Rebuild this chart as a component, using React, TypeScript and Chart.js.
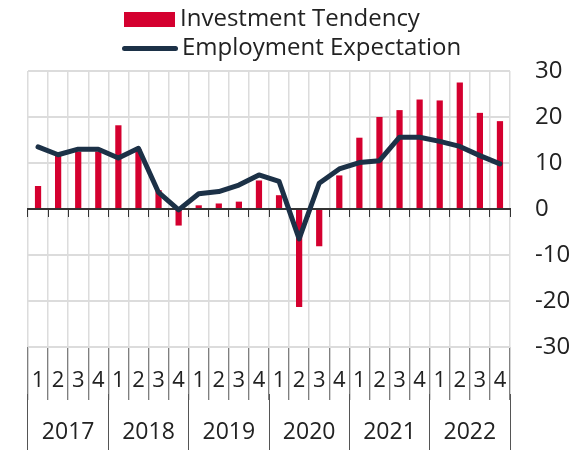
import React, { useEffect, useRef } from "react";
import { Chart, registerables } from "chart.js";

Chart.register(...registerables);

const years = ["2017", "2018", "2019", "2020", "2021", "2022"];
const quarters = ["1", "2", "3", "4"];
const categories = years.flatMap((y) => quarters.map((q) => q));

const investmentTendency = [
  5.0, 11.6, 12.5, 12.5,
  18.2, 13.0, 4.1, -3.6,
  0.8, 1.2, 1.6, 6.2,
  3.0, -21.3, -8.1, 7.3,
  15.5, 20.0, 21.5, 23.8,
  23.6, 27.5, 20.9, 19.1,
];
const employmentExpectation = [
  13.5, 11.8, 13.0, 13.0,
  11.1, 13.2, 3.6, -0.2,
  3.3, 3.8, 5.2, 7.4,
  6.0, -6.5, 5.6, 8.7,
  10.1, 10.5, 15.6, 15.6,
  14.7, 13.6, 11.6, 9.8,
];
const yTicks = { min: -30, max: 30, step: 10 };

const RED = "#d4002f";
const NAVY = "#1c3147";
const FONT = "'Open Sans'";

export default function App() {
  const ref = useRef<HTMLCanvasElement | null>(null);

  useEffect(() => {
    if (!ref.current) return;
    Chart.defaults.font.family = FONT;
    const chart = new Chart(ref.current, {
      type: "bar",
      data: {
        labels: categories,
        datasets: [
          {
            type: "bar",
            label: "Investment Tendency",
            data: investmentTendency,
            backgroundColor: RED,
            borderWidth: 0,
            barPercentage: 0.31,
            categoryPercentage: 1,
            xAxisID: "x",
            yAxisID: "y",
            order: 2,
          },
          {
            type: "line",
            label: "Employment Expectation",
            data: employmentExpectation,
            borderColor: NAVY,
            backgroundColor: NAVY,
            borderWidth: 5,
            pointRadius: 0,
            tension: 0,
            borderJoinStyle: "round",
            borderCapStyle: "round",
            xAxisID: "x",
            yAxisID: "y",
            order: 1,
          } as any,
        ],
      },
      options: {
        animation: false,
        responsive: false,
        maintainAspectRatio: false,
        layout: { padding: { left: 28, top: 71, right: 0, bottom: 0 } },
        plugins: { legend: { display: false }, tooltip: { enabled: false } },
        scales: {
          x: {
            type: "category",
            position: "bottom",
            offset: true,
            grid: {
              offset: true,
              color: "#dcdcdc",
              lineWidth: 1.5,
              tickColor: "#555",
              tickWidth: 1,
              tickLength: 53,
            },
            border: { display: false },
            ticks: {
              color: "#222",
              font: { size: 22 },
              padding: -32,
              autoSkip: false,
              maxRotation: 0,
            },
            afterFit: (s: any) => {
              s.height = 47;
            },
          },
          x2: {
            type: "category",
            position: "bottom",
            labels: years,
            offset: true,
            grid: {
              offset: true,
              drawOnChartArea: false,
              tickColor: "#555",
              tickWidth: 1,
              tickLength: 56,
            },
            border: { display: false },
            ticks: {
              color: "#222",
              font: { size: 23 },
              padding: -31,
              autoSkip: false,
              maxRotation: 0,
            },
            afterFit: (s: any) => {
              s.height = 56;
            },
          },
          x0: {
            type: "category",
            position: { y: 0 } as any,
            offset: true,
            grid: {
              offset: true,
              drawOnChartArea: false,
              tickColor: "#333",
              tickWidth: 1,
              tickLength: 7,
            },
            border: { display: true, color: "#333", width: 2 },
            ticks: { display: false },
          },
          y: {
            type: "linear",
            position: "right",
            min: yTicks.min,
            max: yTicks.max,
            grid: {
              color: "#dcdcdc",
              lineWidth: 2,
              drawTicks: false,
            },
            border: { display: false },
            ticks: {
              stepSize: yTicks.step,
              color: "#222",
              font: { size: 24 },
              padding: 25,
            },
            afterFit: (s: any) => {
              s.width = 62;
            },
          },
        },
      } as any,
    });
    return () => chart.destroy();
  }, []);

  const textStyle: React.CSSProperties = {
    position: "absolute",
    fontFamily: FONT,
    fontSize: 24,
    lineHeight: "28px",
    color: "#222",
    whiteSpace: "nowrap",
  };

  return (
    <div style={{ position: "absolute", left: 0, top: 0, width: 572, height: 450, background: "#fff" }}>
      <canvas ref={ref} width={572} height={450} style={{ width: 572, height: 450, display: "block" }} />
      <div style={{ position: "absolute", left: 124, top: 12, width: 51, height: 15, background: RED }} />
      <div style={{ ...textStyle, left: 180, top: 3.4 }}>Investment Tendency</div>
      <div
        style={{
          position: "absolute",
          left: 122,
          top: 45.5,
          width: 56,
          height: 5,
          borderRadius: 2.5,
          background: NAVY,
        }}
      />
      <div style={{ ...textStyle, left: 182, top: 31.7 }}>Employment Expectation</div>
    </div>
  );
}
